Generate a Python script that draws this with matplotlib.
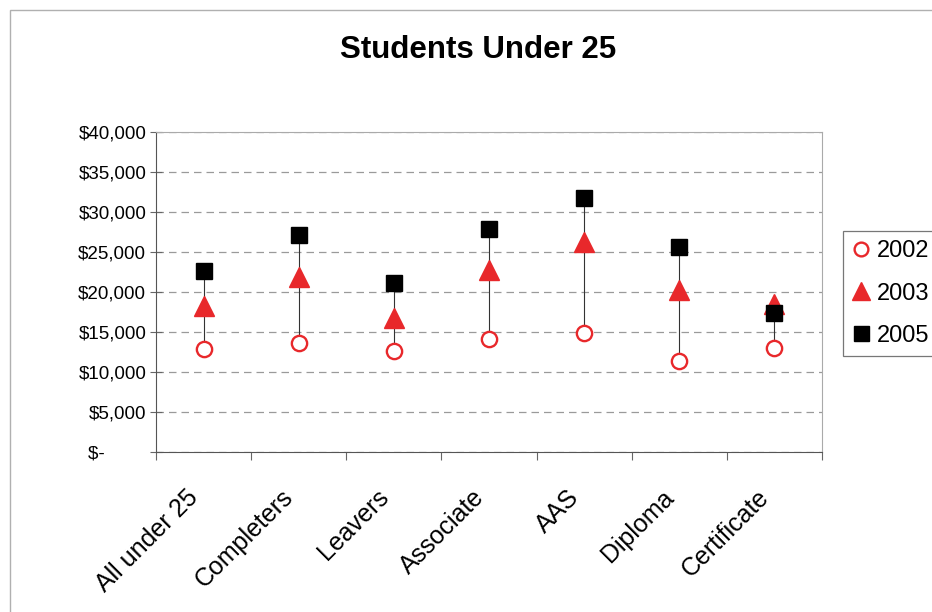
import matplotlib.pyplot as plt
from matplotlib.patches import Rectangle
from matplotlib.transforms import ScaledTranslation
import numpy as np

plt.rcParams['font.family'] = ['Liberation Sans', 'DejaVu Sans']

categories = ["All under 25", "Completers", "Leavers", "Associate", "AAS", "Diploma", "Certificate"]
y2002 = [12900, 13600, 12600, 14100, 14850, 11400, 13000]
y2003 = [18300, 21900, 16800, 22700, 26200, 20200, 18500]
y2005 = [22600, 27100, 21100, 27850, 31750, 25600, 17400]
yticks = [0, 5000, 10000, 15000, 20000, 25000, 30000, 35000, 40000]
ytick_labels = ["$-" + " " * 8] + [f"${v:,}" for v in yticks[1:]]

fig = plt.figure(figsize=(9.32, 6.12), dpi=100)
ax = fig.add_axes([156 / 932, 1 - 452 / 612, 666 / 932, 320 / 612])

# outer chart frame
fig.patches.append(Rectangle((10 / 932, -0.1), 1.2, 1 - 10 / 612 + 0.1,
                             transform=fig.transFigure, fill=False,
                             edgecolor='#b0b0b0', linewidth=1))

x = np.arange(len(categories))

# high-low lines
lows = np.minimum.reduce([y2002, y2003, y2005])
highs = np.maximum.reduce([y2002, y2003, y2005])
ax.vlines(x, lows, highs, color='#333333', linewidth=0.8, zorder=2)

ax.plot(x, y2002, 'o', ls='none', mfc='white', mec='#e8282b', mew=1.7, ms=11, label='2002', zorder=3)
ax.plot(x, y2003, '^', ls='none', color='#e8282b', ms=14, label='2003', zorder=3)
ax.plot(x, y2005, 's', ls='none', color='black', ms=12, label='2005', zorder=4)

ax.set_xlim(-0.5, len(categories) - 0.5)
ax.set_ylim(0, 40000)
ax.set_yticks(yticks)
ax.set_yticklabels(ytick_labels, fontsize=13.5)
ax.yaxis.grid(True, linestyle=(0, (6, 4)), color='#9a9a9a', linewidth=0.9)
ax.set_axisbelow(True)

# category ticks at the boundaries between groups
ax.set_xticks(np.arange(len(categories) + 1) - 0.5)
ax.set_xticklabels([])
ax.set_xticks(x, minor=True)
ax.set_xticklabels(categories, minor=True, rotation=45, ha='right', va='center',
                   rotation_mode='anchor', fontsize=18)
ax.tick_params(axis='x', which='minor', length=0, pad=30)
ax.tick_params(axis='x', which='major', direction='out', length=6, color='#666666')
ax.tick_params(axis='y', direction='inout', length=8, color='#666666', pad=3)
shift = ScaledTranslation(-0.09, 0, fig.dpi_scale_trans)
for lab in ax.get_xticklabels(minor=True):
    lab.set_transform(lab.get_transform() + shift)

for side in ['left', 'bottom']:
    ax.spines[side].set_color('#555555')
for side in ['top', 'right']:
    ax.spines[side].set_color('#aaaaaa')

fig.text(478 / 932, 1 - 50 / 612, "Students Under 25", ha='center', va='center',
         fontsize=22.5, fontweight='bold')

leg = fig.legend(loc='upper left', bbox_to_anchor=(843 / 932, 1 - 231 / 612),
                 fontsize=17, frameon=True, fancybox=False, edgecolor='#555555',
                 handlelength=0.7, handletextpad=0.35, borderpad=0.4,
                 labelspacing=0.85, markerscale=0.9, borderaxespad=0)
leg.get_frame().set_linewidth(0.9)

fig.savefig("out.png", dpi=100)
